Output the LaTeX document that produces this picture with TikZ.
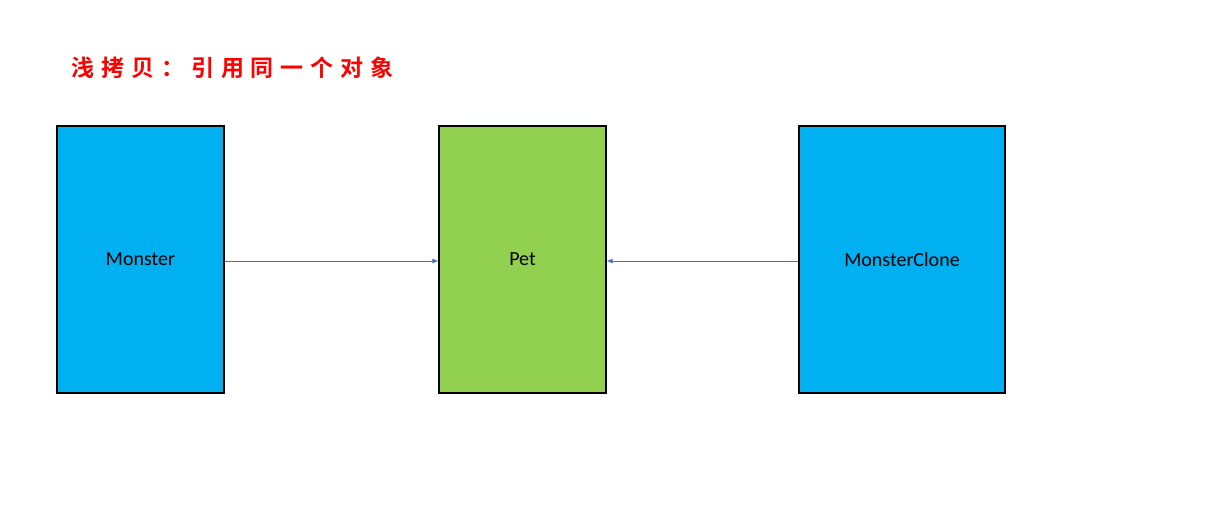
\documentclass[tikz,border=0pt]{standalone}
\usepackage{fontspec}
\setmainfont{Carlito}
\newfontfamily\cjk[LetterSpace=30]{Noto Sans CJK SC Bold}
\definecolor{bx}{HTML}{00B0F0}
\definecolor{gr}{HTML}{92D050}
\definecolor{ar}{HTML}{4472C4}
\begin{document}
\begin{tikzpicture}[x=1pt,y=-1pt]
\tikzset{box/.style={draw=black,line width=1.2pt,inner sep=0pt,font=\fontsize{20}{24}\selectfont},
 conn/.style={draw=ar,line width=0.8pt,-{Latex[length=6pt,width=5pt]}}}
\usetikzlibrary{arrows.meta}
\useasboundingbox (0,0) rectangle (1209,524);
\node[anchor=west,text=red,font=\cjk\fontsize{23}{28}\selectfont] (t) at (68,68) {浅拷贝：引用同一个对象};
\node[box,fill=bx,minimum width=167pt,minimum height=267pt] (m) at (140.5,259.5) {Monster};
\node[box,fill=gr,minimum width=167pt,minimum height=267pt] (p) at (522.5,259.5) {Pet};
\node[box,fill=bx,minimum width=206pt,minimum height=267pt] (c) at (902,259.5) {MonsterClone};
\draw[conn] (m.east|-0,261) -- (p.west|-0,261);
\draw[conn] (c.west|-0,261) -- (p.east|-0,261);
\end{tikzpicture}
\end{document}
